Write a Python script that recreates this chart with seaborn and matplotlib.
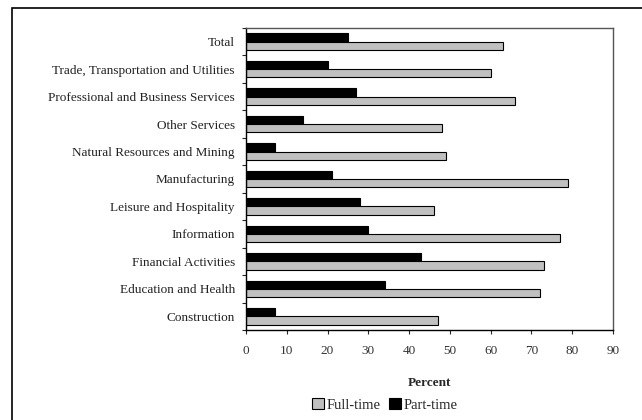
import matplotlib
matplotlib.use("Agg")
import matplotlib.pyplot as plt
import seaborn as sns
import pandas as pd
import numpy as np
from matplotlib.patches import Rectangle, Patch

categories = ["Total", "Trade, Transportation and Utilities", "Professional and Business Services",
              "Other Services", "Natural Resources and Mining", "Manufacturing",
              "Leisure and Hospitality", "Information", "Financial Activities",
              "Education and Health", "Construction"]
full_time = [63, 60, 66, 48, 49, 79, 46, 77, 73, 72, 47]
part_time = [25, 20, 27, 14, 7, 21, 28, 30, 43, 34, 7]
x_ticks = [0, 10, 20, 30, 40, 50, 60, 70, 80, 90]

df = pd.DataFrame({
    "Industry": categories * 2,
    "Percent": part_time + full_time,
    "Type": ["Part-time"] * len(categories) + ["Full-time"] * len(categories),
})

sns.set_style("white")
plt.rcParams["font.family"] = ["Liberation Serif", "DejaVu Serif"]

fig = plt.figure(figsize=(6.42, 4.2), dpi=100)
ax = fig.add_axes([246/642, 1-330/420, (613-246)/642, (330-28)/420])

palette = {"Part-time": "#000000", "Full-time": "#C0C0C0"}
sns.barplot(data=df, y="Industry", x="Percent", hue="Type", hue_order=["Part-time", "Full-time"],
            order=categories, palette=palette, orient="h", width=0.6, dodge=True,
            edgecolor="black", linewidth=0.8, saturation=1, ax=ax, legend=False)

ax.set_xlim(0, 90)
ax.set_xticks(x_ticks)
ax.set_xticklabels([str(t) for t in x_ticks], fontsize=9.5, color="#333333")
ax.set_ylim(len(categories) - 0.5, -0.5)
ax.set_yticks(range(len(categories)))
ax.set_yticklabels(categories, fontsize=9.5, color="#222222")
ax.set_yticks(np.arange(-0.5, len(categories)), minor=True)
ax.tick_params(axis="y", which="major", length=0, pad=8)
ax.tick_params(axis="y", which="minor", length=3, width=0.8, direction="out", left=True)
ax.tick_params(axis="x", which="major", length=3, width=0.8, direction="out", bottom=True, pad=8)
ax.set_ylabel("")
ax.set_xlabel("Percent", fontsize=9.5, fontweight="bold", labelpad=14)
for s in ["left", "bottom"]:
    ax.spines[s].set_color("black")
    ax.spines[s].set_linewidth(1.0)
for s in ["top", "right"]:
    ax.spines[s].set_color("#555555")
    ax.spines[s].set_linewidth(1.0)

handles = [Patch(facecolor="#C0C0C0", edgecolor="black", linewidth=0.8, label="Full-time"),
           Patch(facecolor="#000000", edgecolor="black", linewidth=0.8, label="Part-time")]
fig.legend(handles=handles, loc="center", bbox_to_anchor=(385/642, 1-405/420), ncol=2,
           frameon=False, fontsize=10.5, handlelength=0.8, handleheight=0.8,
           handletextpad=0.2, columnspacing=0.6)

fig.patches.append(Rectangle((12/642, -0.1), 1.2, 1 - 8/420 + 0.1, transform=fig.transFigure,
                             fill=False, edgecolor="black", linewidth=1.2))

fig.savefig("out.png", dpi=100)
